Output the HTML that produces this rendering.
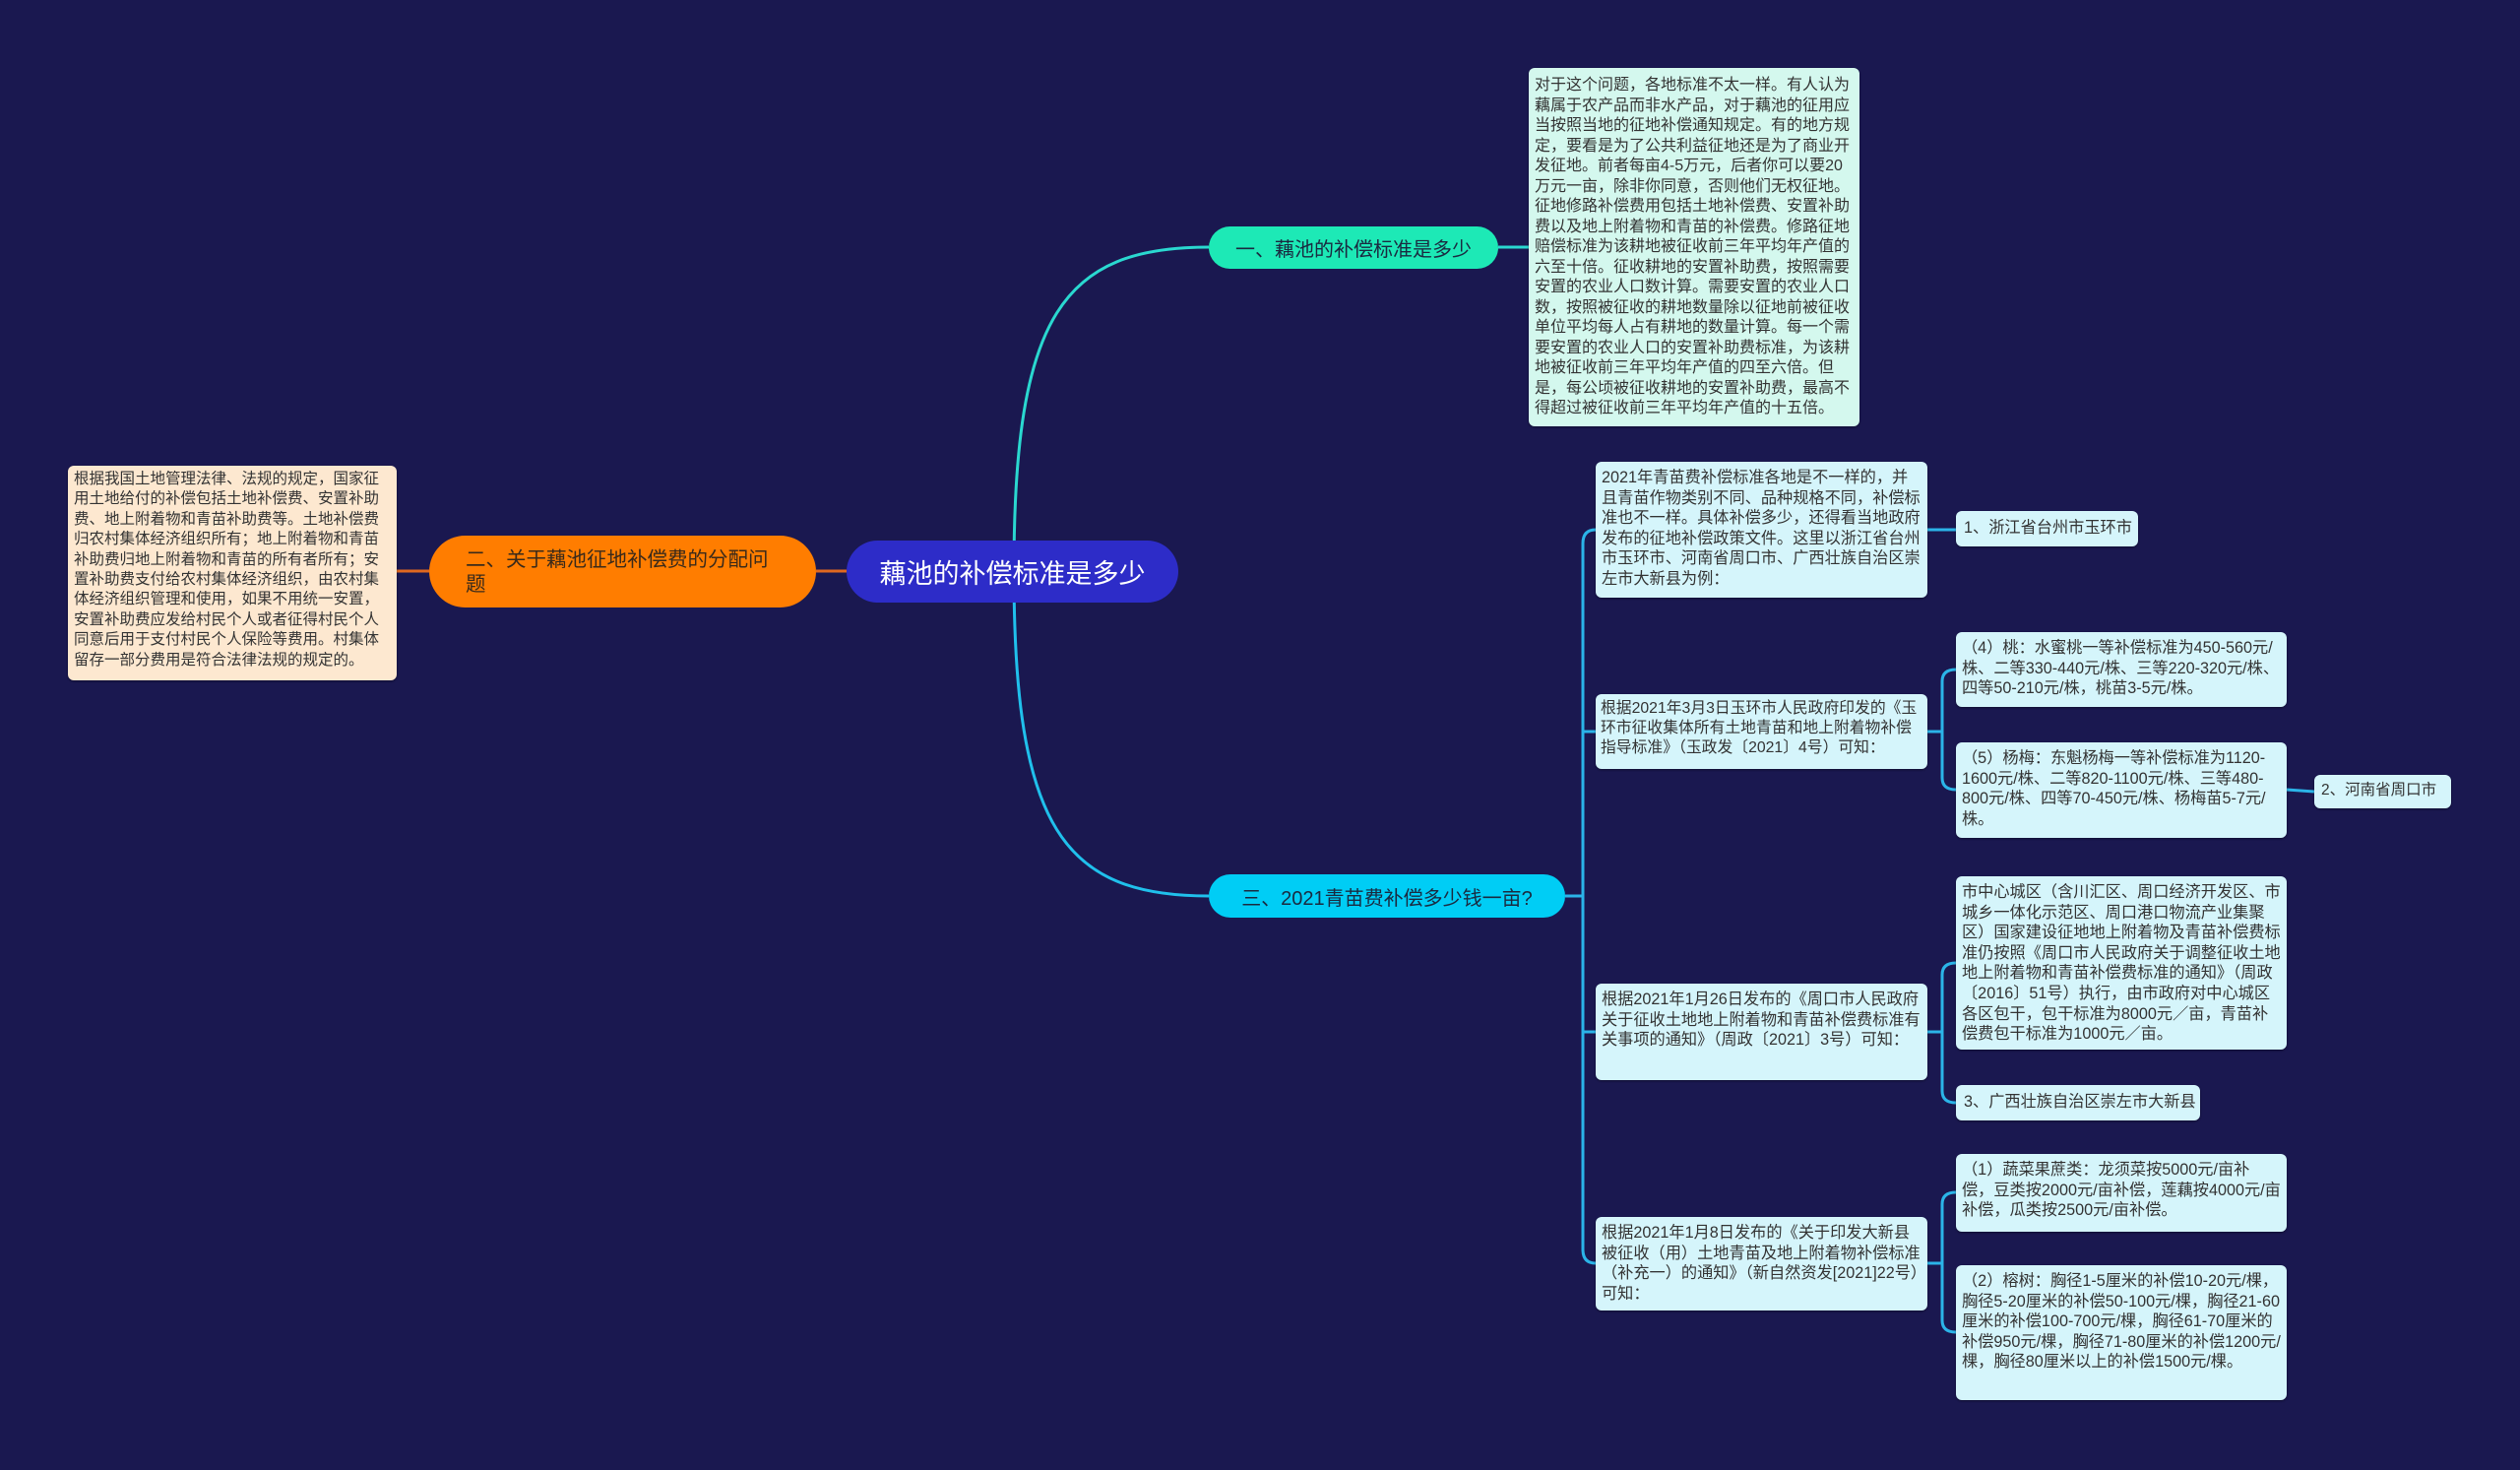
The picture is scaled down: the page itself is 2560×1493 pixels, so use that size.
<!DOCTYPE html>
<html><head><meta charset="utf-8"><style>
body{margin:0;width:2560px;height:1493px;background:#1a1850;position:relative;overflow:hidden;font-family:"Liberation Sans","Noto Sans CJK SC",sans-serif;}
.n{position:absolute;box-sizing:border-box;}
.box{background:#d5f5fb;border-radius:6px;color:#333;font-size:16.2px;line-height:20.6px;padding:6px 6px;box-shadow:0 1px 2px rgba(0,0,0,.4);}
.nw{white-space:nowrap;}
.pill{border-radius:40px;display:flex;align-items:center;color:#1a2a40;}
</style></head><body>
<svg width="2560" height="1493" style="position:absolute;left:0;top:0">
<g fill="none" stroke-width="3">
<path d="M1030 580 C1030 320,1080 251,1228 251" stroke="#2ad8d0"/>
<path d="M1030 580 C1030 840,1080 910,1228 910" stroke="#20c0ec"/>
<path d="M860 580 L829 580 M436 580 L403 580" stroke="#e06820"/>
<path d="M1522 251 L1553 251" stroke="#2ad8d0"/>
<g stroke="#2bb4e8">
<path d="M1590 910 L1608 910"/>
<path d="M1621 538 Q1608 538 1608 552 L1608 1269 Q1608 1283 1621 1283"/>
<path d="M1608 743 Q1608 743 1621 743 M1608 1048 L1621 1048"/>
<path d="M1958 538 L1987 538"/>
<path d="M1958 743 L1973 743 M1987 680 Q1973 680 1973 692 L1973 790 Q1973 802 1987 802"/>
<path d="M1958 1048 L1973 1048 M1987 978 Q1973 978 1973 990 L1973 1108 Q1973 1120 1987 1120"/>
<path d="M1958 1283 L1973 1283 M1987 1211 Q1973 1211 1973 1223 L1973 1341 Q1973 1353 1987 1353"/>
<path d="M2323 802 L2351 804"/>
</g></g></svg>

<div class="n pill" style="left:860px;top:549px;width:337px;height:63px;background:#2d2cc8;color:#fff;font-size:27px;justify-content:center;">藕池的补偿标准是多少</div>
<div class="n pill" style="left:436px;top:544px;width:393px;height:73px;background:#ff7d00;font-size:20.5px;line-height:25px;padding:0 42px 0 37px;color:#3a2a1a;">二、关于藕池征地补偿费的分配问题</div>
<div class="n box" style="left:69px;top:473px;width:334px;height:218px;background:#fde8d0;font-size:15.5px;line-height:20.4px;padding:4px 6px;">根据我国土地管理法律、法规的规定，国家征用土地给付的补偿包括土地补偿费、安置补助费、地上附着物和青苗补助费等。土地补偿费归农村集体经济组织所有；地上附着物和青苗补助费归地上附着物和青苗的所有者所有；安置补助费支付给农村集体经济组织，由农村集体经济组织管理和使用，如果不用统一安置，安置补助费应发给村民个人或者征得村民个人同意后用于支付村民个人保险等费用。村集体留存一部分费用是符合法律法规的规定的。</div>

<div class="n pill" style="left:1228px;top:230px;width:294px;height:43px;background:#1de9b6;font-size:20px;justify-content:center;">一、藕池的补偿标准是多少</div>
<div class="n box" style="left:1553px;top:69px;width:336px;height:364px;background:#d4f8ee;font-size:16px;line-height:20.5px;padding:8px 6px;">对于这个问题，各地标准不太一样。有人认为藕属于农产品而非水产品，对于藕池的征用应当按照当地的征地补偿通知规定。有的地方规定，要看是为了公共利益征地还是为了商业开发征地。前者每亩4-5万元，后者你可以要20万元一亩，除非你同意，否则他们无权征地。征地修路补偿费用包括土地补偿费、安置补助费以及地上附着物和青苗的补偿费。修路征地赔偿标准为该耕地被征收前三年平均年产值的六至十倍。征收耕地的安置补助费，按照需要安置的农业人口数计算。需要安置的农业人口数，按照被征收的耕地数量除以征地前被征收单位平均每人占有耕地的数量计算。每一个需要安置的农业人口的安置补助费标准，为该耕地被征收前三年平均年产值的四至六倍。但是，每公顷被征收耕地的安置补助费，最高不得超过被征收前三年平均年产值的十五倍。</div>

<div class="n pill" style="left:1228px;top:888px;width:362px;height:44px;background:#00cdf5;font-size:20px;justify-content:center;">三、2021青苗费补偿多少钱一亩?</div>

<div class="n box" style="left:1621px;top:469px;width:337px;height:138px;">2021年青苗费补偿标准各地是不一样的，并且青苗作物类别不同、品种规格不同，补偿标准也不一样。具体补偿多少，还得看当地政府发布的征地补偿政策文件。这里以浙江省台州市玉环市、河南省周口市、广西壮族自治区崇左市大新县为例：</div>
<div class="n box" style="left:1621px;top:705px;width:337px;height:76px;font-size:15.8px;line-height:20px;padding:5px 5px;">根据2021年3月3日玉环市人民政府印发的《玉环市征收集体所有土地青苗和地上附着物补偿指导标准》（玉政发〔2021〕4号）可知：</div>
<div class="n box" style="left:1621px;top:999px;width:337px;height:98px;">根据2021年1月26日发布的《周口市人民政府关于征收土地地上附着物和青苗补偿费标准有关事项的通知》（周政〔2021〕3号）可知：</div>
<div class="n box" style="left:1621px;top:1236px;width:337px;height:95px;">根据2021年1月8日发布的《关于印发大新县被征收（用）土地青苗及地上附着物补偿标准（补充一）的通知》（新自然资发[2021]22号）可知：</div>

<div class="n box nw" style="left:1987px;top:519px;width:185px;height:36px;padding:7px 8px;">1、浙江省台州市玉环市</div>
<div class="n box" style="left:1987px;top:642px;width:336px;height:76px;">（4）桃：水蜜桃一等补偿标准为450-560元/株、二等330-440元/株、三等220-320元/株、四等50-210元/株，桃苗3-5元/株。</div>
<div class="n box" style="left:1987px;top:754px;width:336px;height:97px;">（5）杨梅：东魁杨梅一等补偿标准为1120-1600元/株、二等820-1100元/株、三等480-800元/株、四等70-450元/株、杨梅苗5-7元/株。</div>
<div class="n box nw" style="left:2351px;top:787px;width:139px;height:34px;font-size:15.5px;padding:6px 7px;">2、河南省周口市</div>
<div class="n box" style="left:1987px;top:890px;width:336px;height:176px;">市中心城区（含川汇区、周口经济开发区、市城乡一体化示范区、周口港口物流产业集聚区）国家建设征地地上附着物及青苗补偿费标准仍按照《周口市人民政府关于调整征收土地地上附着物和青苗补偿费标准的通知》（周政〔2016〕51号）执行，由市政府对中心城区各区包干，包干标准为8000元／亩，青苗补偿费包干标准为1000元／亩。</div>
<div class="n box nw" style="left:1987px;top:1102px;width:248px;height:36px;padding:7px 8px;">3、广西壮族自治区崇左市大新县</div>
<div class="n box" style="left:1987px;top:1172px;width:336px;height:79px;">（1）蔬菜果蔗类：龙须菜按5000元/亩补偿，豆类按2000元/亩补偿，莲藕按4000元/亩补偿，瓜类按2500元/亩补偿。</div>
<div class="n box" style="left:1987px;top:1285px;width:336px;height:137px;">（2）榕树：胸径1-5厘米的补偿10-20元/棵，胸径5-20厘米的补偿50-100元/棵，胸径21-60厘米的补偿100-700元/棵，胸径61-70厘米的补偿950元/棵，胸径71-80厘米的补偿1200元/棵，胸径80厘米以上的补偿1500元/棵。</div>
</body></html>
